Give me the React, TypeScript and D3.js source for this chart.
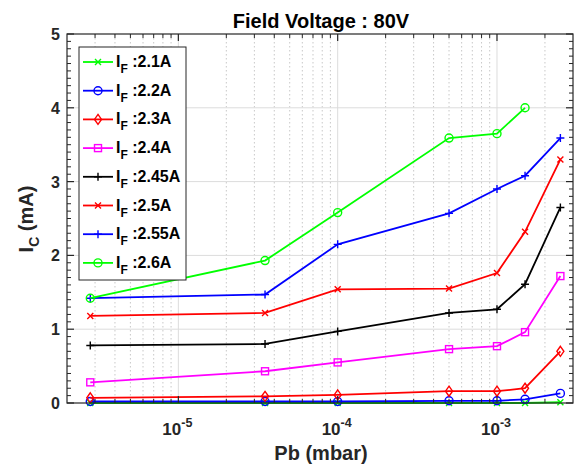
import React from "react";
import * as d3 from "d3";

const W = 580;
const H = 471;
const M = { left: 67, right: 573, top: 34, bottom: 403 };

// Pressure points (mbar)
const pressure = [2.8e-6, 3.5e-5, 1e-4, 5e-4, 1e-3, 1.5e-3, 2.5e-3];

// Collector current (mA) per filament current
const if21 = [0, 0, 0, 0, 0, 0, 0.01];
const if22 = [0.02, 0.02, 0.02, 0.03, 0.03, 0.05, 0.13];
const if23 = [0.07, 0.09, 0.11, 0.16, 0.16, 0.2, 0.7];
const if24 = [0.28, 0.43, 0.55, 0.73, 0.77, 0.96, 1.72];
const if245 = [0.78, 0.8, 0.97, 1.22, 1.27, 1.61, 2.65];
const if25 = [1.18, 1.22, 1.54, 1.55, 1.76, 2.32, 3.3];
const if255 = [1.42, 1.47, 2.15, 2.57, 2.9, 3.08, 3.59];
const if26 = [1.42, 1.93, 2.58, 3.59, 3.65, 4.0];

const labels = [":2.1A", ":2.2A", ":2.3A", ":2.4A", ":2.45A", ":2.5A", ":2.55A", ":2.6A"];
const colors = ["#00ff00", "#0000ff", "#ff0000", "#ff00ff", "#000000", "#ff0000", "#0000ff", "#00ff00"];
const markers = ["x", "o", "d", "s", "+", "x", "+", "o"];
const values = [if21, if22, if23, if24, if245, if25, if255, if26];

const yTicks = [0, 1, 2, 3, 4, 5];
const xDecades = [-5, -4, -3];

const FONT = "'Liberation Sans', Arial, Helvetica, sans-serif";

function Marker({ type, x, y, color }: { type: string; x: number; y: number; color: string }) {
  const r = 3.5;
  const sw = 1.4;
  if (type === "o")
    return <circle cx={x} cy={y} r={r + 0.5} fill="none" stroke={color} strokeWidth={sw} />;
  if (type === "s")
    return <rect x={x - r} y={y - r} width={2 * r} height={2 * r} fill="none" stroke={color} strokeWidth={sw} />;
  if (type === "d")
    return (
      <path
        d={`M${x},${y - r - 1.5}L${x + r},${y}L${x},${y + r + 1.5}L${x - r},${y}Z`}
        fill="none"
        stroke={color}
        strokeWidth={sw}
      />
    );
  if (type === "+")
    return (
      <path d={`M${x - r - 0.5},${y}H${x + r + 0.5}M${x},${y - r - 0.5}V${y + r + 0.5}`} stroke={color} strokeWidth={sw} />
    );
  // x
  return (
    <path
      d={`M${x - r + 0.5},${y - r + 0.5}L${x + r - 0.5},${y + r - 0.5}M${x - r + 0.5},${y + r - 0.5}L${x + r - 0.5},${y - r + 0.5}`}
      stroke={color}
      strokeWidth={sw}
    />
  );
}

export default function App() {
  const x = d3.scaleLog().domain([2e-6, 3e-3]).range([M.left, M.right]);
  const y = d3.scaleLinear().domain([0, 5]).range([M.bottom, M.top]);

  const minorX: number[] = [];
  for (let e = -6; e <= -3; e++) {
    for (let k = 2; k <= 9; k++) {
      const v = k * Math.pow(10, e);
      if (v > 2e-6 && v < 3e-3) minorX.push(v);
    }
  }
  const majorX = xDecades.map((e) => Math.pow(10, e));
  const minorY = d3.range(0, 5.0001, 0.1).filter((v) => Math.abs(v - Math.round(v)) > 1e-6);

  const line = d3
    .line<[number, number]>()
    .x((d) => x(d[0]))
    .y((d) => y(d[1]));

  const legend = { x: 79, y: 47, w: 107, h: 233, row: 28.7 };

  return (
    <svg width={W} height={H} style={{ position: "absolute", left: 0, top: 0, background: "#fff" }} fontFamily={FONT}>
      <rect x={0} y={0} width={W} height={H} fill="#fff" />
      {/* grid */}
      {minorX.map((v, i) => (
        <line key={"gmx" + i} x1={x(v)} x2={x(v)} y1={M.top} y2={M.bottom} stroke="#c8c8c8" strokeWidth={1} strokeDasharray="1.5,2.5" />
      ))}
      {majorX.map((v, i) => (
        <line key={"gx" + i} x1={x(v)} x2={x(v)} y1={M.top} y2={M.bottom} stroke="#dcdcdc" strokeWidth={1} />
      ))}
      {yTicks.slice(1, -1).map((v, i) => (
        <line key={"gy" + i} x1={M.left} x2={M.right} y1={y(v)} y2={y(v)} stroke="#dcdcdc" strokeWidth={1} />
      ))}

      {/* series */}
      {values.map((vals, si) => {
        const pts: [number, number][] = vals.map((v, i) => [pressure[i], v]);
        return (
          <g key={"s" + si}>
            <path d={line(pts) || ""} fill="none" stroke={colors[si]} strokeWidth={1.8} />
            {pts.map((p, i) => (
              <Marker key={i} type={markers[si]} x={x(p[0])} y={y(p[1])} color={colors[si]} />
            ))}
          </g>
        );
      })}

      {/* axes box and ticks */}
      <rect x={M.left} y={M.top} width={M.right - M.left} height={M.bottom - M.top} fill="none" stroke="#262626" strokeWidth={1.2} />
      {minorX.map((v, i) => (
        <g key={"tmx" + i} stroke="#262626" strokeWidth={1}>
          <line x1={x(v)} x2={x(v)} y1={M.bottom} y2={M.bottom - 4} />
          <line x1={x(v)} x2={x(v)} y1={M.top} y2={M.top + 4} />
        </g>
      ))}
      {majorX.map((v, i) => (
        <g key={"tx" + i} stroke="#262626" strokeWidth={1.2}>
          <line x1={x(v)} x2={x(v)} y1={M.bottom} y2={M.bottom - 7} />
          <line x1={x(v)} x2={x(v)} y1={M.top} y2={M.top + 7} />
        </g>
      ))}
      {minorY.map((v, i) => (
        <g key={"tmy" + i} stroke="#262626" strokeWidth={1}>
          <line x1={M.left} x2={M.left + 4} y1={y(v)} y2={y(v)} />
          <line x1={M.right} x2={M.right - 4} y1={y(v)} y2={y(v)} />
        </g>
      ))}
      {yTicks.map((v, i) => (
        <g key={"ty" + i} stroke="#262626" strokeWidth={1.2}>
          <line x1={M.left} x2={M.left + 7} y1={y(v)} y2={y(v)} />
          <line x1={M.right} x2={M.right - 7} y1={y(v)} y2={y(v)} />
        </g>
      ))}

      {/* tick labels */}
      {yTicks.map((v, i) => (
        <text key={"yl" + i} x={M.left - 7} y={y(v) + 6} textAnchor="end" fontSize={16} fontWeight="bold" fill="#262626">
          {v}
        </text>
      ))}
      {xDecades.map((e, i) => (
        <text key={"xl" + i} x={x(Math.pow(10, e)) - 1} y={435} textAnchor="middle" fontSize={17} fontWeight="bold" fill="#262626">
          10
          <tspan dy={-8} fontSize={12.5}>
            {e}
          </tspan>
        </text>
      ))}

      {/* axis titles */}
      <text x={321} y={460} textAnchor="middle" fontSize={20} fontWeight="bold" fill="#262626">
        Pb (mbar)
      </text>
      <text transform={`translate(33,${219}) rotate(-90)`} textAnchor="middle" fontSize={20} fontWeight="bold" fill="#262626">
        I<tspan dy={6} fontSize={14}>C</tspan>
        <tspan dy={-6}> (mA)</tspan>
      </text>
      <text x={321} y={28} textAnchor="middle" fontSize={20} fontWeight="bold" fill="#000">
        Field Voltage : 80V
      </text>

      {/* legend */}
      <rect x={legend.x} y={legend.y} width={legend.w} height={legend.h} fill="#fff" stroke="#262626" strokeWidth={1} />
      {labels.map((lab, i) => {
        const cy = legend.y + 15 + i * legend.row;
        return (
          <g key={"lg" + i}>
            <line x1={83} x2={113} y1={cy} y2={cy} stroke={colors[i]} strokeWidth={1.8} />
            <Marker type={markers[i]} x={98} y={cy} color={colors[i]} />
            <text x={116} y={cy + 5} fontSize={16} fontWeight="bold" fill="#000">
              I<tspan dy={6} fontSize={12}>F</tspan>
              <tspan dy={-6}> {lab}</tspan>
            </text>
          </g>
        );
      })}
    </svg>
  );
}
